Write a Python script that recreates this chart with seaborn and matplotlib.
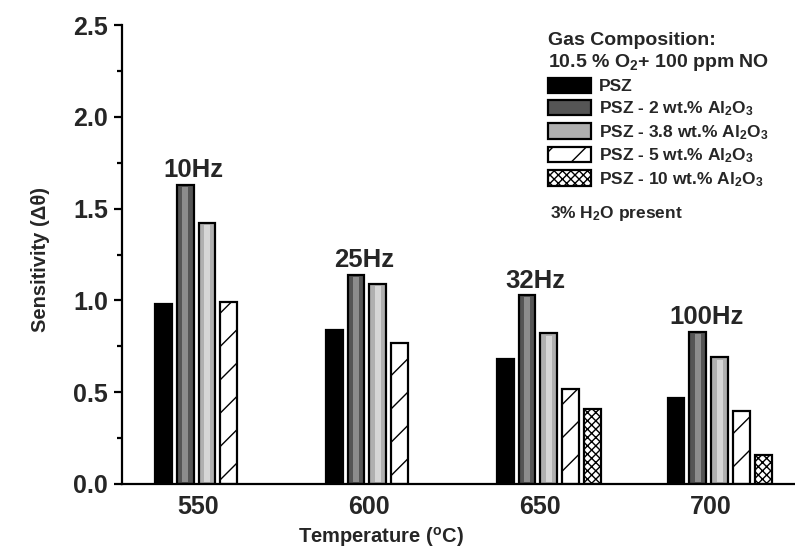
import numpy as np
import pandas as pd
import matplotlib
matplotlib.use("Agg")
import matplotlib.pyplot as plt
import matplotlib.patches as mpatches
from matplotlib.ticker import MultipleLocator
import seaborn as sns

# Sensor sensitivity per operating temperature and zirconia composition
temperatures = ["550", "600", "650", "700"]
materials = [
    "PSZ",
    "PSZ - 2 wt.% Al$_2$O$_3$",
    "PSZ - 3.8 wt.% Al$_2$O$_3$",
    "PSZ - 5 wt.% Al$_2$O$_3$",
    "PSZ - 10 wt.% Al$_2$O$_3$",
]
psz = [0.98, 0.84, 0.68, 0.47]
psz_2 = [1.63, 1.14, 1.03, 0.83]
psz_38 = [1.42, 1.09, 0.82, 0.69]
psz_5 = [0.99, 0.77, 0.52, 0.40]
psz_10 = [np.nan, np.nan, 0.41, 0.16]
frequencies = ["10Hz", "25Hz", "32Hz", "100Hz"]

colors = ["#000000", "#555555", "#b0b0b0", "#ffffff", "#ffffff"]
sheen = [None, "#8c8c8c", "#d6d6d6", None, None]
hatches = ["", "", "", "/", "xxxx"]

series = [psz, psz_2, psz_38, psz_5, psz_10]
rows = [(t, m, v) for m, vals in zip(materials, series) for t, v in zip(temperatures, vals)]
df = pd.DataFrame(rows, columns=["Temperature", "Material", "Sensitivity"])

sns.set_theme(style="ticks")
plt.rcParams["font.family"] = ["Liberation Sans", "DejaVu Sans"]
plt.rcParams["font.weight"] = "bold"
plt.rcParams["mathtext.fontset"] = "custom"
plt.rcParams["mathtext.rm"] = "Liberation Sans:bold"
plt.rcParams["mathtext.bf"] = "Liberation Sans:bold"
plt.rcParams["mathtext.it"] = "Liberation Sans:bold"
plt.rcParams["mathtext.default"] = "rm"
plt.rcParams["hatch.linewidth"] = 1.0

fig = plt.figure(figsize=(7.95, 5.51), dpi=100)
ax = fig.add_axes([0.1535, 0.1216, 0.8465, 0.8330])

sns.barplot(
    data=df, x="Temperature", y="Sensitivity", hue="Material",
    order=temperatures, hue_order=materials, palette=colors,
    width=0.64, gap=0.23, edgecolor="black", linewidth=1.6,
    errorbar=None, legend=False, ax=ax,
)

for container, hatch, shine in zip(ax.containers, hatches, sheen):
    for patch in container.patches:
        patch.set_hatch(hatch)
        h = patch.get_height()
        if shine is None or not np.isfinite(h) or h <= 0:
            continue
        # lighter stripe down the middle of the gray bars
        w = patch.get_width()
        ax.add_patch(mpatches.Rectangle(
            (patch.get_x() + w * 0.32, patch.get_y() + 0.012), w * 0.36, h - 0.024,
            facecolor=shine, edgecolor="none", zorder=patch.get_zorder() + 0.1,
        ))

# Excitation frequency above each temperature group
for i, (freq, top) in enumerate(zip(frequencies, psz_2)):
    ax.text(i - 0.08, top + 0.04, freq, ha="center", va="baseline",
            fontsize=18.5, fontweight="bold")

ax.set_xlim(-0.497, 3.44)
ax.set_ylim(0, 2.5)
ax.set_xticks([i - 0.05 for i in range(len(temperatures))], temperatures)
ax.set_yticks(np.arange(0, 2.51, 0.5))
ax.yaxis.set_minor_locator(MultipleLocator(0.25))
ax.set_yticklabels([f"{v:.1f}" for v in np.arange(0, 2.51, 0.5)])

for side in ["top", "right"]:
    ax.spines[side].set_visible(False)
for side in ["left", "bottom"]:
    ax.spines[side].set_linewidth(1.6)
    ax.spines[side].set_color("black")

ax.tick_params(axis="y", which="major", direction="out", length=6, width=1.6,
               labelsize=18, pad=4, color="black")
ax.tick_params(axis="y", which="minor", direction="out", length=3.5, width=1.6,
               color="black")
ax.tick_params(axis="x", which="both", length=0, labelsize=18, pad=8)
for lbl in ax.get_xticklabels() + ax.get_yticklabels():
    lbl.set_fontweight("bold")

ax.set_xlabel("Temperature ($^{o}$C)", fontsize=14.5, fontweight="bold")
ax.xaxis.set_label_coords(0.385, -0.09)
ax.set_ylabel("Sensitivity (Δθ)", fontsize=14.5, fontweight="bold")
ax.yaxis.set_label_coords(-0.107, 0.49)

handles = [
    mpatches.Patch(facecolor=c, edgecolor="black", hatch=h, linewidth=1.6)
    for c, h in zip(colors, hatches)
]
leg = ax.legend(
    handles, materials,
    title="Gas Composition:\n10.5 % O$_2$+ 100 ppm NO",
    loc="upper left", bbox_to_anchor=(0.633, 0.985),
    frameon=False, borderpad=0, borderaxespad=0,
    handlelength=2.5, handleheight=1.0, handletextpad=0.45,
    labelspacing=0.28, alignment="left",
    prop={"size": 12.5, "weight": "bold"},
    title_fontproperties={"size": 14, "weight": "bold"},
)
ax.text(0.636, 0.59, "3% H$_2$O present", transform=ax.transAxes,
        fontsize=12.5, fontweight="bold", ha="left", va="center")

fig.savefig("out.png", dpi=100)
